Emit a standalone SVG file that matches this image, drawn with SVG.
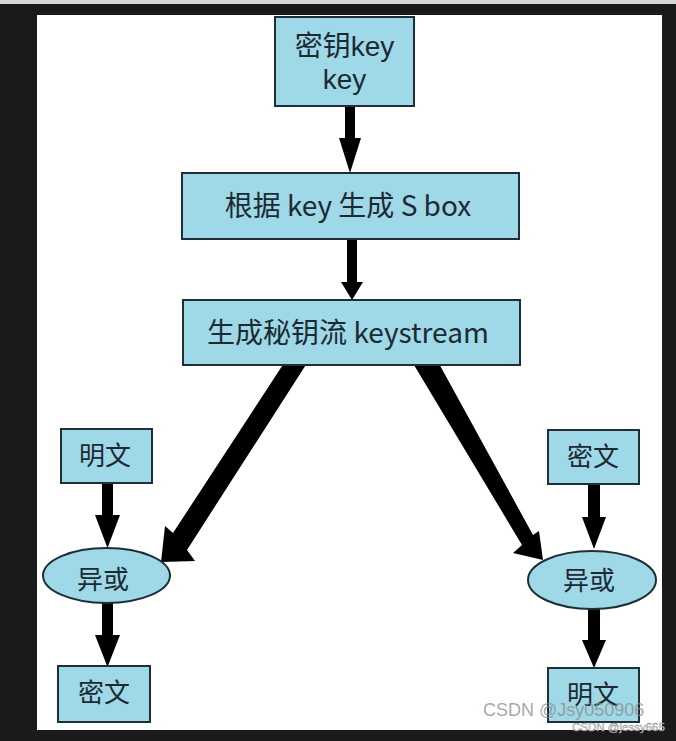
<svg xmlns="http://www.w3.org/2000/svg" width="676" height="741" viewBox="0 0 676 741">
  <style>
    .box { fill: #9fd8e6; stroke: #1f2f3a; stroke-width: 2; }
    .lbl { font-family: "Noto Sans CJK SC", "Noto Sans", sans-serif; fill: #1b2a33; text-anchor: middle; }
    .lbl2 { font-family: "Liberation Sans", "Noto Sans CJK SC", sans-serif; fill: #1b2a33; text-anchor: middle; }
    .big { font-size: 28px; }
    .sm { font-size: 26px; }
    .arrow { fill: #000; }
  </style>
  <rect x="0" y="0" width="676" height="741" fill="#1a1a1a"/>
  <rect x="0" y="0" width="676" height="4" fill="#d6d6d6"/>
  <rect x="37" y="15" width="625" height="715" fill="#ffffff"/>

  <g id="connectors">
    <polygon class="arrow" points="345,104 355,104 355,138 361,138 350,173 339,138 345,138"/>
    <polygon class="arrow" points="347,237 357,237 357,282 363,282 352,300 341,282 347,282"/>
    <polygon class="arrow" points="286,360 309,360 187,550 195,561 161,562 165,526 173,533"/>
    <polygon class="arrow" points="411,360 437,360 533,535 539,531 543,560 513,553 522,545"/>
    <polygon class="arrow" points="102,483 113,483 113,515 120,515 107.5,548 95,515 102,515"/>
    <polygon class="arrow" points="102,602 113,602 113,635 120,635 107.5,667 95,635 102,635"/>
    <polygon class="arrow" points="588,484 600,484 600,517 606,517 594,549 582,517 588,517"/>
    <polygon class="arrow" points="588,608 600,608 600,640 606,640 594,668 582,640 588,640"/>
  </g>

  <g id="key">
    <rect class="box" x="275" y="17" width="139" height="89"/>
    <text class="lbl2 big"><tspan x="344.5" y="56">密钥key</tspan><tspan x="344.5" y="89">key</tspan></text>
  </g>
  <g id="sbox">
    <rect class="box" x="182" y="173" width="337" height="66"/>
    <text class="lbl big" x="348" y="216">根据 key 生成 S box</text>
  </g>
  <g id="keystream">
    <rect class="box" x="183" y="300" width="337" height="65"/>
    <text class="lbl big" x="348" y="343">生成秘钥流 keystream</text>
  </g>
  <g id="plain-left">
    <rect class="box" x="61" y="429" width="91" height="54"/>
    <text class="lbl sm" x="105" y="465">明文</text>
  </g>
  <g id="xor-left">
    <ellipse class="box" cx="106.5" cy="575.5" rx="63.5" ry="27.5"/>
    <text class="lbl sm" x="103" y="589">异或</text>
  </g>
  <g id="cipher-left">
    <rect class="box" x="58" y="666" width="92" height="56"/>
    <text class="lbl sm" x="104" y="702">密文</text>
  </g>
  <g id="cipher-right">
    <rect class="box" x="548" y="430" width="91" height="54"/>
    <text class="lbl sm" x="593" y="466">密文</text>
  </g>
  <g id="xor-right">
    <ellipse class="box" cx="592" cy="580" rx="64" ry="29"/>
    <text class="lbl sm" x="589" y="590">异或</text>
  </g>
  <g id="plain-right">
    <rect class="box" x="548" y="668" width="91" height="54"/>
    <text class="lbl sm" x="593" y="704">明文</text>
  </g>

  <g id="watermark">
    <text x="483" y="716" font-family="Liberation Sans, Arial, sans-serif" font-size="18" fill="#8a8a8a" fill-opacity="0.75">CSDN @Jsy050906</text>
    <text x="572" y="731" font-family="Liberation Sans, Arial, sans-serif" font-size="11.5" fill="#e6e6e6" stroke="#8a8a8a" stroke-width="0.4">CSDN @jessy665</text>
  </g>
</svg>
